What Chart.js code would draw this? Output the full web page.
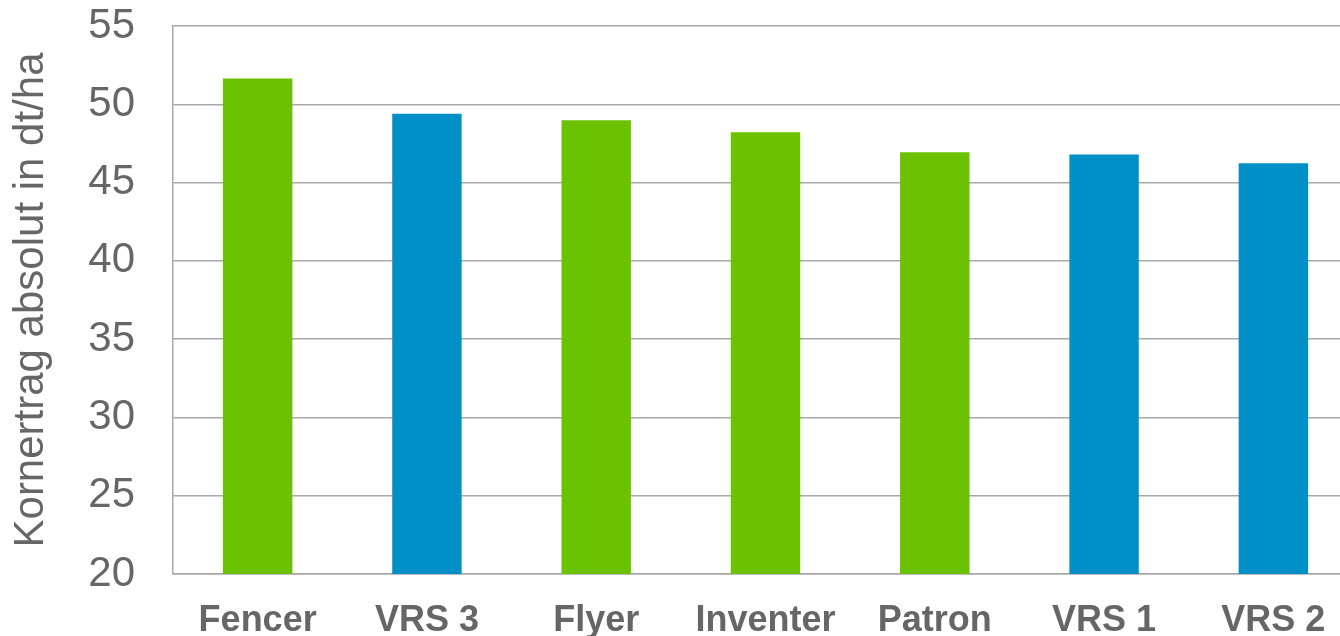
<!DOCTYPE html>
<html>
<head>
<meta charset="utf-8">
<script src="https://cdn.jsdelivr.net/npm/chart.js@4/dist/chart.umd.min.js"></script>
<style>
  html, body { margin: 0; padding: 0; background: #fff; overflow: hidden; }
  #wrap { width: 1358px; height: 636px; position: relative; }
</style>
</head>
<body>
<div id="wrap"><canvas id="yieldChart"></canvas></div>
<script>
const sorten = ["Fencer", "VRS 3", "Flyer", "Inventer", "Patron", "VRS 1", "VRS 2"];
const ertrag = [51.65, 49.4, 48.98, 48.21, 46.94, 46.79, 46.23];
const sortenTyp = ["sorte", "vrs", "sorte", "sorte", "sorte", "vrs", "vrs"];
const yTicks = [20, 25, 30, 35, 40, 45, 50, 55];

const GREEN = "#6ac200";
const BLUE = "#0090c7";
const TEXT = "#666666";
const GRID = "#a8a8a8";

const ctx = document.getElementById("yieldChart").getContext("2d");

new Chart(ctx, {
  type: "bar",
  data: {
    labels: sorten,
    datasets: [{
      data: ertrag,
      backgroundColor: sortenTyp.map(t => t === "vrs" ? BLUE : GREEN),
      borderWidth: 0,
      categoryPercentage: 1,
      barPercentage: 0.41
    }]
  },
  options: {
    responsive: true,
    maintainAspectRatio: false,
    animation: false,
    layout: { padding: { top: 26, right: 0, bottom: 0, left: 0 } },
    plugins: {
      legend: { display: false },
      tooltip: { enabled: false }
    },
    scales: {
      x: {
        grid: { display: false, drawTicks: false },
        border: { display: true, color: GRID, width: 1.5 },
        ticks: {
          color: TEXT,
          padding: 25,
          font: { family: "Liberation Sans, Arial, sans-serif", size: 36, weight: "bold" }
        },
        afterFit: s => { s.height = 62; s.paddingLeft = 0; s.paddingRight = 0; }
      },
      y: {
        min: 20,
        max: 55,
        afterBuildTicks: s => { s.ticks = yTicks.map(v => ({ value: v })); },
        grid: { color: GRID, lineWidth: 1.5, drawTicks: false },
        border: { display: true, color: GRID, width: 1.5 },
        ticks: {
          color: TEXT,
          padding: 38,
          font: { family: "Liberation Sans, Arial, sans-serif", size: 42 }
        },
        title: {
          display: true,
          text: "Kornertrag absolut in dt/ha",
          color: TEXT,
          padding: { top: 6, bottom: 0 },
          font: { family: "Liberation Sans, Arial, sans-serif", size: 42 }
        },
        afterFit: s => { s.width = 173; s.paddingTop = 0; s.paddingBottom = 0; }
      }
    }
  }
});
</script>
</body>
</html>
